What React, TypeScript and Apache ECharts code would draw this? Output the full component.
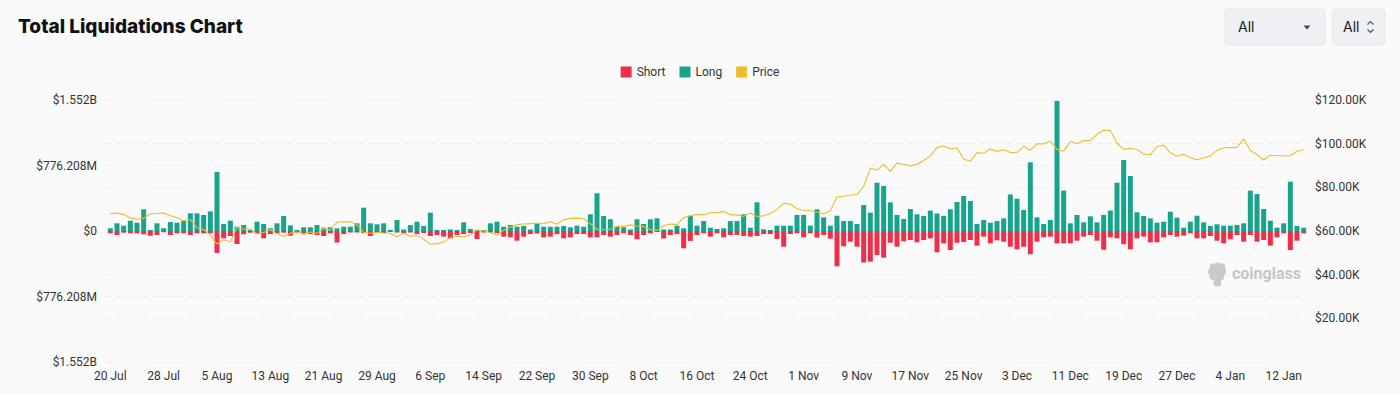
import React, { useEffect, useRef } from "react";
import * as echarts from "echarts";

const categories = [
  "20 Jul","21 Jul","22 Jul","23 Jul","24 Jul","25 Jul","26 Jul","27 Jul","28 Jul","29 Jul","30 Jul","31 Jul",
  "1 Aug","2 Aug","3 Aug","4 Aug","5 Aug","6 Aug","7 Aug","8 Aug","9 Aug","10 Aug","11 Aug","12 Aug","13 Aug","14 Aug","15 Aug","16 Aug","17 Aug","18 Aug","19 Aug","20 Aug","21 Aug","22 Aug","23 Aug","24 Aug","25 Aug","26 Aug","27 Aug","28 Aug","29 Aug","30 Aug","31 Aug",
  "1 Sep","2 Sep","3 Sep","4 Sep","5 Sep","6 Sep","7 Sep","8 Sep","9 Sep","10 Sep","11 Sep","12 Sep","13 Sep","14 Sep","15 Sep","16 Sep","17 Sep","18 Sep","19 Sep","20 Sep","21 Sep","22 Sep","23 Sep","24 Sep","25 Sep","26 Sep","27 Sep","28 Sep","29 Sep","30 Sep",
  "1 Oct","2 Oct","3 Oct","4 Oct","5 Oct","6 Oct","7 Oct","8 Oct","9 Oct","10 Oct","11 Oct","12 Oct","13 Oct","14 Oct","15 Oct","16 Oct","17 Oct","18 Oct","19 Oct","20 Oct","21 Oct","22 Oct","23 Oct","24 Oct","25 Oct","26 Oct","27 Oct","28 Oct","29 Oct","30 Oct","31 Oct",
  "1 Nov","2 Nov","3 Nov","4 Nov","5 Nov","6 Nov","7 Nov","8 Nov","9 Nov","10 Nov","11 Nov","12 Nov","13 Nov","14 Nov","15 Nov","16 Nov","17 Nov","18 Nov","19 Nov","20 Nov","21 Nov","22 Nov","23 Nov","24 Nov","25 Nov","26 Nov","27 Nov","28 Nov","29 Nov","30 Nov",
  "1 Dec","2 Dec","3 Dec","4 Dec","5 Dec","6 Dec","7 Dec","8 Dec","9 Dec","10 Dec","11 Dec","12 Dec","13 Dec","14 Dec","15 Dec","16 Dec","17 Dec","18 Dec","19 Dec","20 Dec","21 Dec","22 Dec","23 Dec","24 Dec","25 Dec","26 Dec","27 Dec","28 Dec","29 Dec","30 Dec","31 Dec",
  "1 Jan","2 Jan","3 Jan","4 Jan","5 Jan","6 Jan","7 Jan","8 Jan","9 Jan","10 Jan","11 Jan","12 Jan","13 Jan","14 Jan","15 Jan",
];

// Long liquidations, USD millions
const longValues = [
  32, 91, 63, 122, 98, 257, 12, 91, 32, 107, 98, 118,
  210, 210, 190, 233, 700, 83, 122, 51, 71, 12, 110, 83, 32, 91, 178, 67, 12, 44, 44, 71, 39, 44, 32, 51, 51, 91, 276, 91, 79, 91, 12,
  130, 18, 71, 110, 59, 217, 12, 12, 18, 12, 103, 24, 12, 12, 91, 110, 51, 71, 51, 59, 18, 91, 51, 51, 51, 59, 44, 63, 51, 198,
  447, 178, 139, 51, 44, 18, 139, 83, 139, 150, 18, 18, 63, 32, 181, 63, 118, 39, 24, 32, 118, 118, 198, 39, 340, 20, 12, 63, 63, 63, 190,
  190, 63, 257, 162, 63, 181, 118, 118, 83, 308, 217, 572, 533, 340, 190, 142, 261, 198, 178, 241, 207, 180, 257, 344, 415, 356, 83, 130, 98, 118,
  150, 433, 383, 249, 814, 162, 83, 130, 1540, 478, 91, 190, 103, 174, 103, 190, 243, 572, 841, 652, 222, 178, 150, 98, 110, 229, 158, 39, 110, 181, 103,
  59, 79, 63, 63, 71, 91, 478, 438, 261, 122, 39, 91, 584, 59, 39,
];

// Short liquidations, USD millions (drawn below zero)
const shortValues = [
  27, 47, 20, 27, 27, 39, 56, 47, 15, 47, 27, 27,
  47, 27, 27, 27, 260, 87, 59, 154, 39, 20, 27, 87, 36, 27, 20, 56, 20, 27, 36, 47, 59, 27, 136, 36, 18, 18, 24, 59, 24, 24, 12,
  18, 24, 18, 36, 24, 59, 47, 67, 87, 47, 36, 24, 95, 18, 18, 24, 67, 75, 115, 67, 36, 30, 75, 67, 36, 87, 75, 36, 36, 75,
  75, 47, 67, 47, 27, 47, 98, 47, 27, 12, 89, 47, 36, 205, 118, 47, 27, 67, 27, 75, 47, 47, 59, 67, 59, 36, 36, 95, 186, 36, 27,
  75, 27, 79, 47, 91, 418, 181, 127, 186, 373, 364, 284, 316, 139, 186, 122, 107, 134, 107, 87, 252, 146, 225, 139, 130, 107, 174, 67, 146, 110,
  127, 186, 217, 186, 275, 127, 75, 67, 146, 146, 146, 115, 67, 47, 115, 222, 75, 87, 156, 217, 87, 67, 134, 134, 75, 47, 67, 56, 27, 87, 87,
  59, 115, 146, 98, 47, 127, 47, 127, 107, 174, 75, 27, 225, 115, 27,
];

// BTC price, USD thousands
const priceValues = [
  68.0, 68.2, 67.6, 66.0, 65.4, 65.8, 67.9, 68.0, 68.3, 67.0, 66.2, 64.7,
  65.3, 61.5, 60.7, 58.1, 54.0, 56.0, 55.1, 61.7, 60.9, 60.9, 58.7, 59.3, 60.6, 58.7, 57.6, 58.9, 59.5, 58.4, 59.5, 59.0, 61.2, 60.4, 64.1, 64.2, 64.2, 62.8, 59.4, 59.0, 59.4, 59.1, 58.9,
  57.3, 59.1, 57.5, 58.0, 56.2, 53.9, 54.2, 54.9, 57.1, 57.6, 57.4, 58.1, 60.5, 60.0, 59.2, 58.2, 60.3, 61.8, 62.9, 63.2, 63.4, 63.6, 63.3, 64.3, 63.1, 65.2, 65.8, 65.9, 65.6, 63.3,
  60.8, 60.6, 60.8, 62.1, 62.1, 62.8, 62.2, 62.1, 60.6, 60.3, 62.5, 63.2, 62.9, 66.1, 67.0, 67.6, 67.4, 68.4, 68.4, 69.0, 67.4, 67.4, 66.7, 68.2, 66.6, 67.0, 68.0, 69.9, 72.7, 72.3, 70.2,
  69.5, 69.3, 68.7, 67.8, 69.4, 75.6, 75.9, 76.5, 76.7, 80.5, 88.7, 87.9, 90.5, 87.3, 91.1, 90.6, 89.8, 90.5, 92.3, 94.3, 98.3, 98.9, 97.7, 98.0, 93.0, 91.9, 95.9, 95.6, 97.5, 96.4,
  97.2, 95.9, 96.0, 98.8, 97.0, 99.9, 99.9, 101.2, 97.4, 96.6, 101.1, 100.0, 101.4, 101.4, 104.3, 106.1, 106.1, 100.2, 97.5, 97.8, 97.3, 95.2, 94.9, 98.7, 99.3, 95.8, 94.2, 95.2, 93.6, 92.6, 93.4,
  94.4, 96.9, 98.1, 98.2, 98.3, 102.2, 96.9, 95.0, 92.5, 94.7, 94.5, 94.5, 94.5, 96.5, 97.2,
];

const LEFT_INTERVAL = 776.208;
const RIGHT_MAX = 120;
const RIGHT_INTERVAL = 20;

const logoPath =
  "M4 6 C3 2 6 0 9 2 C11 0 14 0 15 2 C18 0 21 2 20 6 C22 9 21 12 19 13 C20 16 18 18 16 18 L16 23 C14 25 10 25 8 23 L8 18 C5 18 3 16 4 13 C2 12 1 9 4 6 Z";

function fmtLeft(v: number): string {
  const a = Math.abs(v);
  if (a < 1e-6) return "$0";
  if (a >= 1000) return "$" + (a / 1000).toFixed(3) + "B";
  return "$" + a.toFixed(3) + "M";
}

export default function App() {
  const ref = useRef<HTMLDivElement>(null);

  useEffect(() => {
    if (!ref.current) return;
    let logoOk = true;
    try {
      echarts.graphic.registerShape("cglogo2", (echarts.graphic as any).extendPath(logoPath, {}));
    } catch (e) {
      logoOk = false;
    }
    const chart = echarts.init(ref.current, null, { renderer: "svg" });
    const labelFont = "Roboto";
    const gridLine = { show: true, lineStyle: { color: "#ebebeb", type: [5, 4], width: 1 } };
    const option: any = {
      animation: false,
      backgroundColor: "#fafafa",
      textStyle: { fontFamily: labelFont },
      legend: {
        top: 61,
        left: "center",
        icon: "rect",
        itemWidth: 11,
        itemHeight: 11,
        itemGap: 14,
        textStyle: { fontSize: 12, color: "#333", fontFamily: labelFont },
        data: ["Short", "Long", "Price"],
      },
      grid: { left: 107, right: 93, top: 100, bottom: 32, containLabel: false },
      xAxis: {
        type: "category",
        data: categories,
        boundaryGap: true,
        axisLine: { show: false },
        axisTick: { show: false },
        axisLabel: { interval: 7, color: "#333", fontSize: 12, margin: 8, fontFamily: labelFont },
        splitLine: { show: false },
      },
      yAxis: [
        {
          type: "value",
          min: -2 * LEFT_INTERVAL,
          max: 2 * LEFT_INTERVAL,
          interval: LEFT_INTERVAL,
          axisLine: { show: false },
          axisTick: { show: false },
          axisLabel: { formatter: fmtLeft, color: "#333", fontSize: 12, margin: 10, fontFamily: labelFont },
          splitLine: gridLine,
        },
        {
          type: "value",
          min: 0,
          max: RIGHT_MAX,
          interval: RIGHT_INTERVAL,
          position: "right",
          axisLine: { show: false },
          axisTick: { show: false },
          axisLabel: {
            formatter: (v: number) => (v === 0 ? "" : "$" + v.toFixed(2) + "K"),
            color: "#333",
            fontSize: 12,
            margin: 8,
            fontFamily: labelFont,
          },
          splitLine: gridLine,
        },
      ],
      series: [
        {
          name: "Short",
          type: "bar",
          stack: "liq",
          yAxisIndex: 0,
          barCategoryGap: "25%",
          itemStyle: { color: "#ee2f4a" },
          data: shortValues.map((v) => -v),
        },
        {
          name: "Long",
          type: "bar",
          stack: "liq",
          yAxisIndex: 0,
          barCategoryGap: "25%",
          itemStyle: { color: "#18a48c" },
          data: longValues,
        },
        {
          name: "Price",
          type: "line",
          yAxisIndex: 1,
          showSymbol: false,
          symbol: "none",
          itemStyle: { color: "#ecbd2c" },
          lineStyle: { color: "#ecbd2c", width: 1.1 },
          data: priceValues,
          z: 5,
        },
      ],
      graphic: [
        {
          type: "text",
          x: 18,
          y: 17,
          style: { text: "Total Liquidations Chart", font: "800 19px Inter", fill: "#111" },
        },
        {
          type: "rect",
          shape: { x: 1225, y: 9, width: 100, height: 36, r: 4 },
          style: { fill: "#eef0f3", stroke: "#e4e6ea" },
        },
        { type: "text", x: 1238, y: 19, style: { text: "All", font: "14px Inter", fill: "#222" } },
        {
          type: "polygon",
          shape: { points: [[1303.5, 25.5], [1310.5, 25.5], [1307, 29.5]] },
          style: { fill: "#444" },
        },
        {
          type: "rect",
          shape: { x: 1333, y: 9, width: 52, height: 36, r: 4 },
          style: { fill: "#eef0f3", stroke: "#e4e6ea" },
        },
        { type: "text", x: 1343, y: 19, style: { text: "All", font: "14px Inter", fill: "#222" } },
        {
          type: "polyline",
          shape: { points: [[1367.5, 24.5], [1370.5, 21.5], [1373.5, 24.5]] },
          style: { stroke: "#555", lineWidth: 1.2, fill: null },
        },
        {
          type: "polyline",
          shape: { points: [[1367.5, 29.5], [1370.5, 32.5], [1373.5, 29.5]] },
          style: { stroke: "#555", lineWidth: 1.2, fill: null },
        },
        ...(logoOk
          ? [
              {
                type: "cglogo2",
                x: 1206,
                y: 262,
                scaleX: 0.95,
                scaleY: 1.0,
                style: { fill: "#c9c9c9" },
                z: 10,
              },
            ]
          : []),
        {
          type: "text",
          x: 1232,
          y: 265,
          style: { text: "coinglass", font: "bold 16px Roboto", fill: "#c6c6c6" },
          z: 10,
        },
      ],
    };
    chart.setOption(option);
    return () => chart.dispose();
  }, []);

  return (
    <div style={{ position: "fixed", left: 0, top: 0, width: 1400, height: 394, background: "#fafafa" }}>
      <div ref={ref} style={{ width: 1400, height: 394 }} />
    </div>
  );
}
